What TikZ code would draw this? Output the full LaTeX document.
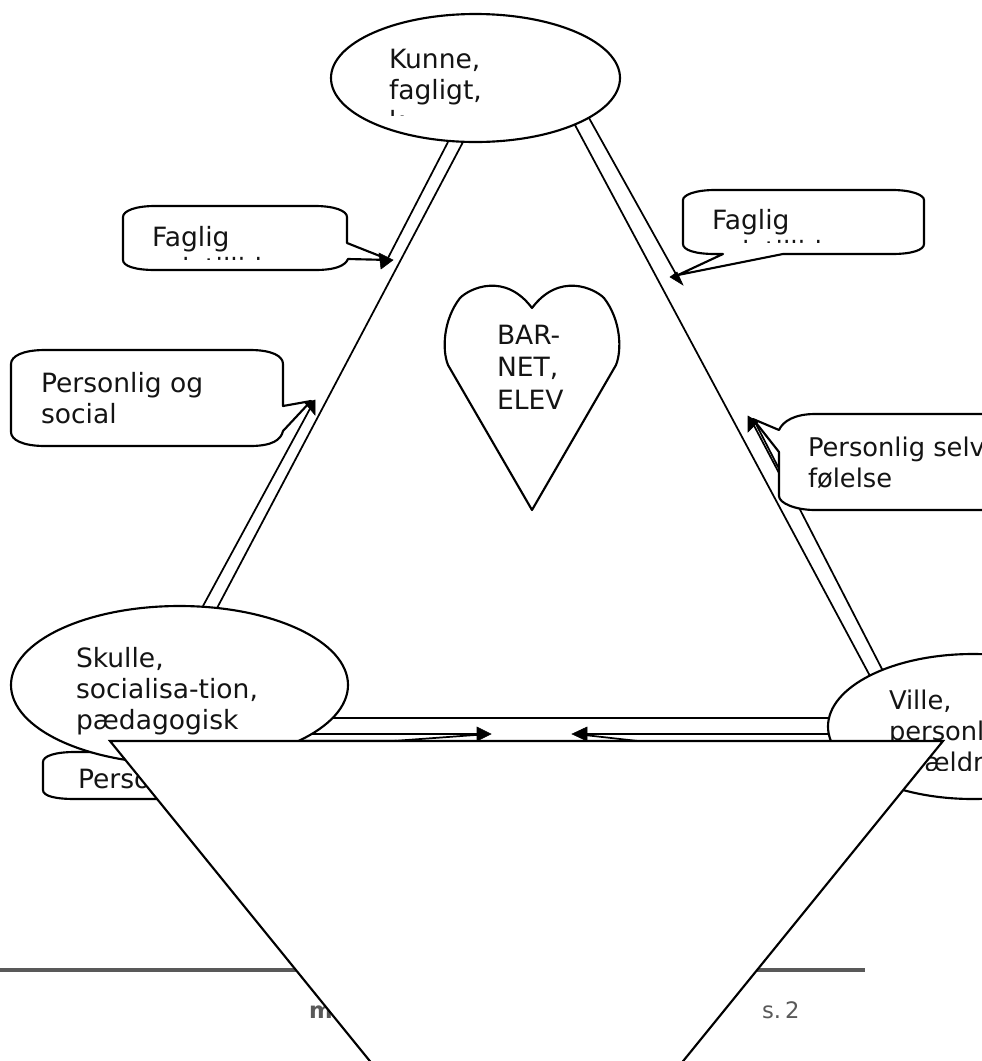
\documentclass[tikz,border=0pt]{standalone}
\usepackage{fontspec}
\setmainfont{DejaVu Sans}
\tikzset{
  shapeline/.style={draw=black,line width=1.6pt,fill=white},
  plainline/.style={draw=black,line width=1.3pt},
  headfill/.style={fill=black,draw=black,line width=.4pt,line join=miter},
  lbl/.style={anchor=base west,inner sep=0pt,outer sep=0pt,font=\fontsize{19.9}{23.2}\selectfont,text=black!92},
  lblv/.style={lbl,font=\fontsize{19.3}{23.2}\selectfont},
  foot/.style={anchor=base west,inner sep=0pt,outer sep=0pt,font=\fontsize{17}{20}\selectfont,text=black!65},
}
\begin{document}
\begin{tikzpicture}[x=.75pt,y=-.75pt]
\useasboundingbox (0,0) rectangle (982,1061);
\clip (0,0) rectangle (982,1061);
\fill[white] (0,0) rectangle (982,1061);
% footer
\coordinate (ruleL) at (0,970); \coordinate (ruleR) at (865,970);
\draw[draw=black!65,line width=2.3pt] (ruleL) -- (ruleR);
\node[foot,font=\fontsize{17}{20}\selectfont\bfseries] (footm) at (309,1018) {m};
\node[foot] (footpage) at (762,1018) {\spaceskip=.08em s. 2};
% triangle sides: double rails
\coordinate (tlA) at (448,142); \coordinate (tlB) at (388,258);
\coordinate (tlC) at (312,405); \coordinate (tlD) at (203,606);
\coordinate (tlE) at (463,142); \coordinate (tlF) at (216,610);
\draw[plainline] (tlA) -- (tlB) (tlC) -- (tlD) (tlE) -- (tlF);
\coordinate (trA) at (589,118); \coordinate (trB) at (677,276);
\coordinate (trC) at (756,424); \coordinate (trD) at (883,671);
\coordinate (trE) at (575,125); \coordinate (trF) at (870,676);
\draw[plainline] (trA) -- (trB) (trC) -- (trD) (trE) -- (trF);
\coordinate (bA) at (300,718); \coordinate (bB) at (840,718);
\coordinate (bC) at (300,734); \coordinate (bD) at (480,734);
\coordinate (bE) at (585,734); \coordinate (bF) at (840,734);
\draw[plainline] (bA) -- (bB) (bC) -- (bD) (bE) -- (bF);
% callout: Person (behind ellipse)
\draw[shapeline] (200,752) -- (75,752) .. controls (55,752) and (43,756) .. (43,762) -- (43,790)
  .. controls (43,796) and (55,799) .. (75,799) -- (300,799) -- (393,741) -- (300,741) -- cycle;
\node[lbl] (cPerson) at (78,788) {Personlig};
\draw[plainline] (393,741) -- (482,734.5);
% ellipses
\draw[shapeline] (475.5,78) ellipse [x radius=144.5,y radius=64];
\coordinate (eTop) at (475.5,78);
\draw[shapeline] (179.5,685) ellipse [x radius=168.5,y radius=79];
\coordinate (eLeft) at (179.5,685);
\draw[shapeline] (973,726.5) ellipse [x radius=145,y radius=72.5];
\coordinate (eRight) at (973,726.5);
\node[lbl] (tk1) at (389,68) {Kunne,};
\node[lbl] (tk2) at (389,99) {fagligt,};
\begin{scope}\clip (380,105) rectangle (480,115);
\node[lbl] (tk3) at (389,130) {k};
\end{scope}
\node[lbl] (ts1) at (76,667) {Skulle,};
\node[lbl] (ts2) at (76,698) {socialisa-tion,};
\node[lbl] (ts3) at (76,729) {pædagogisk};
\node[lblv] (tv1) at (889,709) {Ville,};
\node[lblv] (tv2) at (889,740) {personlig,};
\begin{scope}\clip (880,745) rectangle (982,770);
\node[lblv] (tv3) at (889,771) {forældre};
\end{scope}
% heart
\draw[shapeline,line join=round] (532,510) -- (448,365) .. controls (442,350) and (443,320) .. (460,298)
  .. controls (470,288) and (505,272) .. (532,308)
  .. controls (559,272) and (594,288) .. (604,298)
  .. controls (621,320) and (622,350) .. (616,365) -- cycle;
\node[lbl] (th1) at (497,344) {BAR-};
\node[lbl] (th2) at (497,376) {NET,};
\node[lbl] (th3) at (497,409) {ELEV};
% callout: Faglig left
\draw[shapeline,line join=round] (155,206) -- (315,206) .. controls (335,206) and (347,211) .. (347,217) -- (347,243)
  -- (390,260) -- (348,259) .. controls (345,266) and (335,270) .. (315,270) -- (155,270)
  .. controls (135,270) and (123,266) .. (123,260) -- (123,217) .. controls (123,211) and (135,206) .. (155,206) -- cycle;
\fill[headfill] (379,253) -- (393,260) -- (381,269) -- cycle;
\node[lbl] (tf1) at (152,246) {Faglig};
\begin{scope}\clip (140,250) rectangle (330,259.3);
\node[lbl] (tf2) at (152,277) {selvtillid};
\end{scope}
% callout: Faglig right
\draw[shapeline,line join=round] (715,190) -- (892,190) .. controls (912,190) and (924,195) .. (924,200) -- (924,244)
  .. controls (924,250) and (912,254) .. (892,254) -- (783,254) -- (678,275) -- (723,254) -- (715,254)
  .. controls (695,254) and (683,250) .. (683,244) -- (683,200) .. controls (683,195) and (695,190) .. (715,190) -- cycle;
\fill[headfill] (670,277) -- (683,285) -- (677,272) -- cycle;
\node[lbl] (tg1) at (712,229) {Faglig};
\begin{scope}\clip (700,233) rectangle (900,242);
\node[lbl] (tg2) at (712,260) {selvtillid};
\end{scope}
% callout: Personlig og social
\draw[shapeline,line join=round] (45,350) -- (250,350) .. controls (272,350) and (283,356) .. (283,364) -- (283,406)
  -- (311,401) -- (283,431) .. controls (281,440) and (272,446) .. (250,446) -- (45,446)
  .. controls (23,446) and (11,440) .. (11,432) -- (11,364) .. controls (11,356) and (23,350) .. (45,350) -- cycle;
\fill[headfill] (305,403) -- (315,400) -- (315,415) -- cycle;
\node[lbl] (tp1) at (41,392) {Personlig og};
\node[lbl] (tp2) at (41,423) {social};
% callout: Personlig selvfolelse
\draw[plainline] (750,418) -- (779,473);
\draw[shapeline,line join=round] (1100,414) -- (815,414) .. controls (795,414) and (783,421) .. (779,430)
  -- (753,419) -- (779,452) -- (779,496) .. controls (779,503) and (795,510) .. (815,510) -- (1100,510) -- cycle;
\fill[headfill] (748,416) -- (748,432) -- (758,422) -- cycle;
\node[lblv] (tq1) at (808,456) {Personlig selv};
\node[lblv] (tq2) at (808,487) {følelse};
% bottom arrow heads
\coordinate (hLt) at (491,734); \coordinate (hRt) at (572,734);
\fill[headfill] (477,727) -- (hLt) -- (477,741) -- cycle;
\fill[headfill] (587,727) -- (hRt) -- (587,741) -- cycle;
\draw[plainline] (638,741) -- (580,734.5);
% big white triangle on top
\draw[shapeline,line join=miter] (110,741) -- (943,741) -- (526.5,1254) -- cycle;
\end{tikzpicture}
\end{document}
